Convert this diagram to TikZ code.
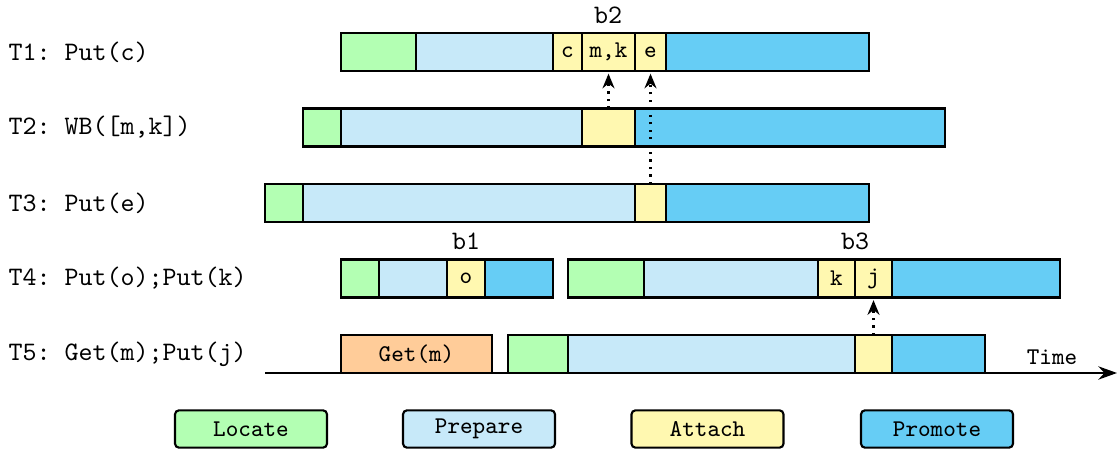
\documentclass[tikz,border=0pt]{standalone}
\usetikzlibrary{arrows.meta}
\definecolor{locg}{RGB}{179,255,179}
\definecolor{prepb}{RGB}{199,233,249}
\definecolor{atty}{RGB}{255,248,176}
\definecolor{promb}{RGB}{102,205,245}
\definecolor{geto}{RGB}{255,204,153}
\frenchspacing
\tikzset{
  segbox/.style={draw=black, line width=0.8pt, minimum height=14.25pt, inner sep=0pt, outer sep=0pt, font=\ttfamily\small},
  rowlabel/.style={anchor=west, inner sep=0pt, font=\ttfamily},
  blabel/.style={inner sep=0pt, font=\ttfamily},
  legbox/.style={draw=black, line width=0.8pt, rounded corners=1.5pt, minimum width=57pt, minimum height=14pt, inner sep=0pt, font=\ttfamily\small},
  dep/.style={dotted, line width=0.8pt, -{Stealth[length=5.5pt,width=4.5pt]}, shorten >=1pt}
}
\newcommand\seg[6]{\node[segbox, fill=#5, minimum width={(#3-#2)*0.375pt}] (#1) at ({(#2+#3)/2},#4) {#6};}
\begin{document}
\begin{tikzpicture}[x=0.375pt, y=-0.375pt]
\useasboundingbox (0,0) rectangle (1119,451);
% row labels
\node[rowlabel] (l1) at (8,52) {T1: Put(c)};
\node[rowlabel] (l2) at (8,127.5) {T2: WB([m,k])};
\node[rowlabel] (l3) at (8,203) {T3: Put(e)};
\node[rowlabel] (l4) at (8,278.5) {T4: Put(o);Put(k)};
\node[rowlabel] (l5) at (8,354) {T5: Get(m);Put(j)};
% time axis
\coordinate (ts) at (265,373);
\coordinate (te) at (1117,373);
\draw[line width=0.8pt, -{Stealth[length=7pt,width=5pt]}] (ts) -- (te);
\node[blabel, font=\ttfamily\small] (time) at (1052,357) {Time};
% T1
\seg{a1}{341}{416}{52}{locg}{}
\seg{b1s}{416}{553}{52}{prepb}{}
\seg{c1}{553}{582}{52}{atty}{c}
\seg{t1mk}{582}{635}{52}{atty}{m,k}
\seg{t1e}{635}{666}{52}{atty}{e}
\seg{d1}{666}{869}{52}{promb}{}
% T2
\seg{a2}{303}{341}{127.5}{locg}{}
\seg{b2s}{341}{582}{127.5}{prepb}{}
\seg{t2att}{582}{635}{127.5}{atty}{}
\seg{d2}{635}{945}{127.5}{promb}{}
% T3
\seg{a3}{265}{303}{203}{locg}{}
\seg{b3s}{303}{635}{203}{prepb}{}
\seg{t3att}{635}{666}{203}{atty}{}
\seg{d3}{666}{869}{203}{promb}{}
% T4
\seg{a4}{341}{379}{278.5}{locg}{}
\seg{b4}{379}{447}{278.5}{prepb}{}
\seg{c4}{447}{485}{278.5}{atty}{o}
\seg{d4}{485}{553}{278.5}{promb}{}
\seg{e4}{568}{644}{278.5}{locg}{}
\seg{f4}{644}{818}{278.5}{prepb}{}
\seg{t4k}{818}{855}{278.5}{atty}{k}
\seg{t4j}{855}{892}{278.5}{atty}{j}
\seg{h4}{892}{1060}{278.5}{promb}{}
% T5
\seg{g5}{341}{492}{354}{geto}{Get(m)}
\seg{a5}{508}{568}{354}{locg}{}
\seg{b5}{568}{855}{354}{prepb}{}
\seg{t5att}{855}{892}{354}{atty}{}
\seg{d5}{892}{985}{354}{promb}{}
% batch labels
\node[blabel] (nb2) at (608,15) {b2};
\node[blabel] (nb1) at (466,241) {b1};
\node[blabel] (nb3) at (855,241) {b3};
% dependencies
\draw[dep] (t2att.north) -- (t1mk.south);
\draw[dep] (t3att.north) -- (t1e.south);
\draw[dep] (t5att.north) -- (t4j.south);
% legend
\node[legbox, fill=locg] (lg1) at (251,429) {Locate};
\node[legbox, fill=prepb] (lg2) at (479,429) {Prepare};
\node[legbox, fill=atty] (lg3) at (707.5,429) {Attach};
\node[legbox, fill=promb] (lg4) at (937,429) {Promote};
\end{tikzpicture}
\end{document}
